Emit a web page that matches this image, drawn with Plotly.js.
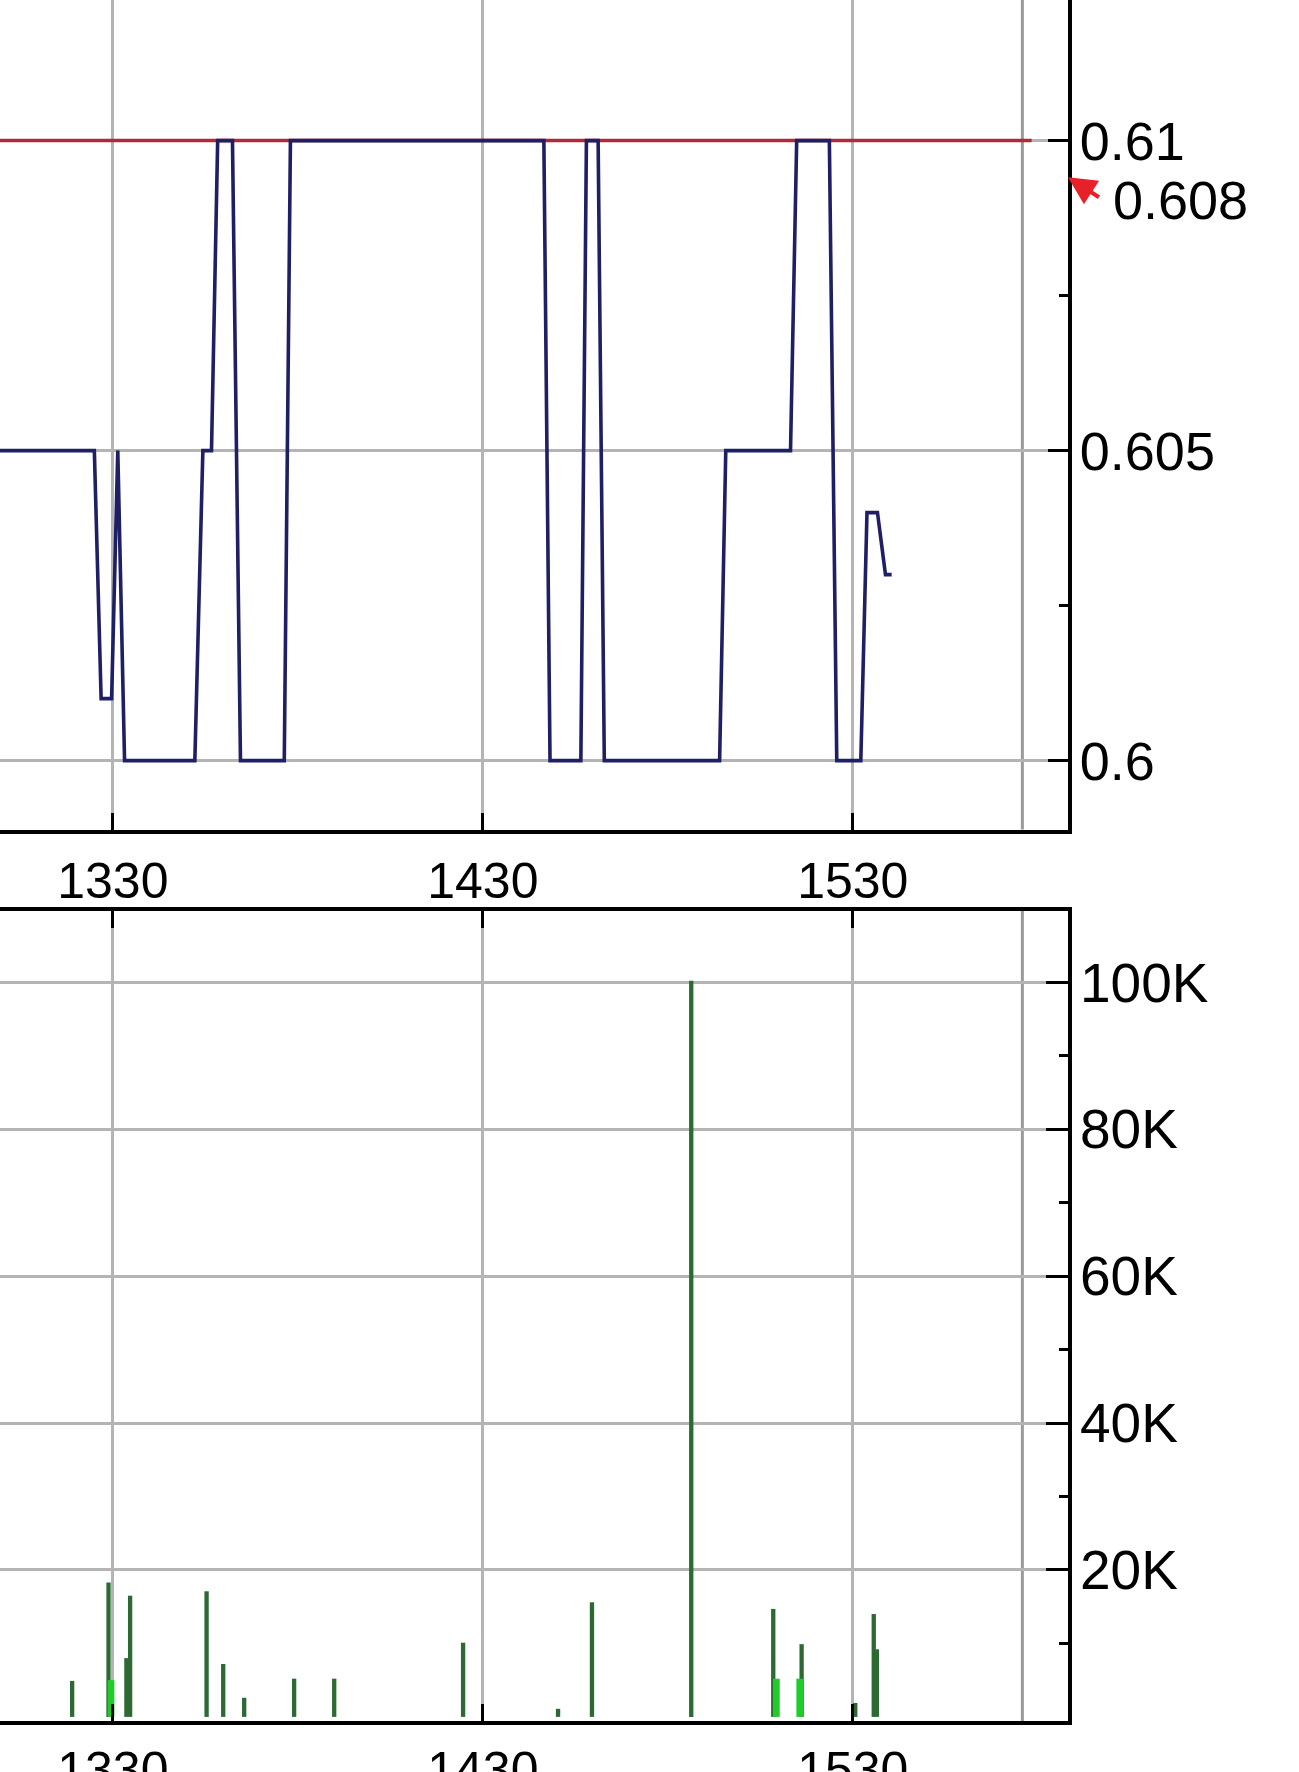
<!DOCTYPE html>
<html>
<head>
<meta charset="utf-8">
<script src="https://cdn.plot.ly/plotly-3.0.1.min.js"></script>
<style>
html,body{margin:0;padding:0;background:#fff;}
#chart{width:1299px;height:1772px;}
</style>
</head>
<body>
<div id="chart"></div>
<script>
// ---- data (times as minutes after midnight) ----
const priceTime = [790, 807.0, 808.1, 809.8, 810.8, 811.9, 823.3, 824.6, 826.0, 827.0, 829.4, 830.7, 837.8, 838.8, 879.9, 880.9, 885.9, 886.8, 888.7, 889.7, 908.4, 909.4, 919.9, 920.9, 926.2, 927.4, 931.3, 932.3, 934.0, 935.3, 936.3];
const priceValue = [0.605, 0.605, 0.601, 0.601, 0.605, 0.600, 0.600, 0.605, 0.605, 0.610, 0.610, 0.600, 0.600, 0.610, 0.610, 0.600, 0.600, 0.610, 0.610, 0.600, 0.600, 0.605, 0.605, 0.610, 0.610, 0.600, 0.600, 0.604, 0.604, 0.603, 0.603];

const volTime = [803.4, 809.3, 812.2, 812.8, 825.2, 827.9, 831.3, 839.4, 845.9, 866.8, 882.2, 887.7, 903.8, 917.1, 921.7, 930.4, 933.4, 933.9];
const volValue = [4900, 18300, 8000, 16500, 17100, 7200, 2600, 5200, 5200, 10100, 1100, 15600, 100200, 14700, 9900, 1900, 14000, 9200];
const volUpTime = [809.7, 917.6, 921.4];
const volUpValue = [5000, 5200, 5200];

const refPrice = 0.61;
const refLineTime = [791.7, 959.0];
const markerPrice = 0.608;
const markerLabel = "0.608";
const closeTime = 957.5;

const xTickVals = [810, 870, 930];
const xTickText = ["1330", "1430", "1530"];
const priceTickVals = [0.600, 0.605, 0.610];
const priceTickText = ["0.6", "0.605", "0.61"];
const priceMinorVals = [0.6025, 0.6075];
const volTickVals = [20000, 40000, 60000, 80000, 100000];
const volTickText = ["20K", "40K", "60K", "80K", "100K"];
const volMinorVals = [10000, 30000, 50000, 70000, 90000];

// ---- styling ----
const FONT = "Liberation Sans, Arial, Helvetica, sans-serif";
const GRID = "#b4b4b4";

const traces = [
  {x: refLineTime, y: refLineTime.map(() => refPrice), type: "scatter", mode: "lines",
   line: {color: "#b02a38", width: 3.5}, xaxis: "x", yaxis: "y", hoverinfo: "skip"},
  {x: priceTime, y: priceValue, type: "scatter", mode: "lines",
   line: {color: "#1f1f66", width: 3.6}, xaxis: "x", yaxis: "y", hoverinfo: "skip"},
  {x: volTime, y: volValue, type: "bar", width: 0.7,
   marker: {color: "#2d6a33", line: {width: 0}}, xaxis: "x2", yaxis: "y2"},
  {x: volUpTime, y: volUpValue, type: "bar", width: 1.1,
   marker: {color: "#1fcc2a", line: {width: 0}}, xaxis: "x2", yaxis: "y2"}
];

const xCommon = {
  range: [791.7, 964.9], tickmode: "array", tickvals: xTickVals, ticktext: xTickText,
  showgrid: true, gridcolor: GRID, gridwidth: 3, zeroline: false,
  showline: true, linecolor: "#000", linewidth: 4,
  ticks: "inside", ticklen: 17, tickwidth: 3, tickcolor: "#000",
  tickfont: {family: FONT, size: 50, color: "#000"}
};

const layout = {
  width: 1299, height: 1772,
  margin: {l: 0, r: 231, t: 0, b: 51},
  paper_bgcolor: "#fff", plot_bgcolor: "#fff",
  showlegend: false, barmode: "overlay",
  xaxis: Object.assign({}, xCommon, {domain: [0, 1], anchor: "y", ticklabelstandoff: 4}),
  xaxis2: Object.assign({}, xCommon, {domain: [0, 1], anchor: "y2", mirror: "ticks", ticklabelstandoff: 2}),
  yaxis: {
    domain: [0.5180, 1], anchor: "x", side: "right", range: [0.598889, 0.612268],
    tickmode: "array", tickvals: priceTickVals, ticktext: priceTickText,
    showgrid: true, gridcolor: GRID, gridwidth: 3, zeroline: false,
    showline: true, linecolor: "#000", linewidth: 4,
    ticks: "inside", ticklen: 20, tickwidth: 3, tickcolor: "#000",
    tickfont: {family: FONT, size: 54, color: "#000"}, ticklabelstandoff: -3,
    minor: {tickmode: "array", tickvals: priceMinorVals, ticks: "inside", ticklen: 9, tickwidth: 3, tickcolor: "#000", showgrid: false}
  },
  yaxis2: {
    domain: [0, 0.4707], anchor: "x2", side: "right", range: [-560, 109720],
    tickmode: "array", tickvals: volTickVals, ticktext: volTickText,
    showgrid: true, gridcolor: GRID, gridwidth: 3, zeroline: false,
    showline: true, linecolor: "#000", linewidth: 4,
    ticks: "inside", ticklen: 22, tickwidth: 3, tickcolor: "#000",
    tickfont: {family: FONT, size: 55, color: "#000"}, ticklabelstandoff: -3,
    minor: {tickmode: "array", tickvals: volMinorVals, ticks: "inside", ticklen: 9, tickwidth: 3, tickcolor: "#000", showgrid: false}
  },
  shapes: [
    {type: "line", xref: "x", yref: "y domain", x0: closeTime, x1: closeTime, y0: 0, y1: 1,
     line: {color: "#9a9a9a", width: 3}, layer: "below"},
    {type: "line", xref: "x2", yref: "y2 domain", x0: closeTime, x1: closeTime, y0: 0, y1: 1,
     line: {color: "#9a9a9a", width: 3}, layer: "below"}
  ],
  annotations: [
    {xref: "x", yref: "y", x: 964.9, y: 0.60941, text: " ", showarrow: true,
     ax: 34, ay: 22, arrowcolor: "#e8202a", arrowwidth: 4, arrowhead: 2, arrowsize: 1.4, standoff: 0},
    {xref: "paper", yref: "y", x: 1.040, y: markerPrice + 0.00104, xanchor: "left", yanchor: "middle",
     text: markerLabel, showarrow: false, font: {family: FONT, size: 54, color: "#000"}}
  ]
};

Plotly.newPlot("chart", traces, layout, {staticPlot: true, displayModeBar: false});
</script>
</body>
</html>
